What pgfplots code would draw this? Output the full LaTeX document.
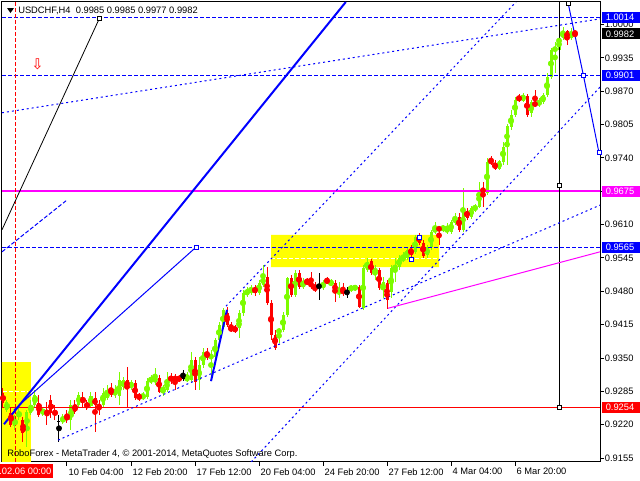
\documentclass[border=0pt]{standalone}
\usepackage{fontspec}
\setmainfont{Liberation Sans}
\newfontfamily\symfont{DejaVu Sans}
\usepackage{pgfplots}
\usepackage{pgfplotstable}
\pgfplotsset{compat=1.18}

\definecolor{mtgreen}{RGB}{124,252,0}
\definecolor{mtred}{RGB}{255,0,0}
\definecolor{mtblue}{RGB}{0,0,255}
\definecolor{mtmag}{RGB}{255,0,255}
\definecolor{mtyellow}{RGB}{255,255,0}

% H4 candles, x = bar number (4 px apart), o h l c
\pgfplotstableread{
x o h l c
1 0.9249 0.9268 0.9245 0.9264
3 0.9218 0.9239 0.9210 0.9233
4 0.9235 0.9253 0.9229 0.9245
6 0.9210 0.9249 0.9177 0.9245
7 0.9243 0.9268 0.9239 0.9258
8 0.9258 0.9287 0.9255 0.9278
10 0.9243 0.9253 0.9237 0.9249
15 0.9225 0.9241 0.9222 0.9235
17 0.9229 0.9268 0.9210 0.9258
19 0.9258 0.9284 0.9255 0.9278
22 0.9256 0.9284 0.9253 0.9276
25 0.9258 0.9291 0.9255 0.9282
26 0.9272 0.9297 0.9268 0.9284
28 0.9278 0.9297 0.9272 0.9287
29 0.9276 0.9323 0.9258 0.9307
30 0.9293 0.9313 0.9287 0.9307
32 0.9293 0.9307 0.9287 0.9303
35 0.9272 0.9284 0.9268 0.9278
36 0.9274 0.9312 0.9270 0.9305
37 0.9303 0.9317 0.9299 0.9312
38 0.9303 0.9331 0.9297 0.9313
40 0.9284 0.9297 0.9276 0.9293
41 0.9287 0.9323 0.9284 0.9307
46 0.9307 0.9323 0.9303 0.9313
47 0.9307 0.9362 0.9303 0.9346
49 0.9307 0.9352 0.9287 0.9337
50 0.9337 0.9370 0.9331 0.9362
52 0.9350 0.9366 0.9307 0.9356
53 0.9352 0.9389 0.9346 0.9385
54 0.9385 0.9420 0.9381 0.9414
55 0.9410 0.9447 0.9406 0.9443
59 0.9408 0.9443 0.9389 0.9437
60 0.9437 0.9483 0.9433 0.9477
61 0.9473 0.9489 0.9468 0.9483
62 0.9477 0.9493 0.9473 0.9487
64 0.9477 0.9502 0.9473 0.9496
65 0.9493 0.9531 0.9489 0.9508
69 0.9401 0.9408 0.9379 0.9404
70 0.9404 0.9439 0.9401 0.9433
71 0.9433 0.9508 0.9430 0.9506
73 0.9473 0.9522 0.9469 0.9516
75 0.9489 0.9506 0.9485 0.9498
80 0.9487 0.9502 0.9483 0.9496
82 0.9494 0.9504 0.9490 0.9498
84 0.9477 0.9498 0.9467 0.9481
87 0.9483 0.9493 0.9479 0.9489
88 0.9483 0.9493 0.9481 0.9491
90 0.9448 0.9531 0.9444 0.9525
91 0.9522 0.9545 0.9518 0.9537
93 0.9518 0.9531 0.9502 0.9523
95 0.9483 0.9508 0.9467 0.9498
97 0.9479 0.9531 0.9467 0.9525
98 0.9522 0.9545 0.9498 0.9531
99 0.9527 0.9551 0.9522 0.9545
100 0.9541 0.9556 0.9537 0.9547
101 0.9545 0.9566 0.9541 0.9560
103 0.9556 0.9590 0.9553 0.9585
106 0.9551 0.9570 0.9545 0.9566
107 0.9566 0.9600 0.9560 0.9596
108 0.9596 0.9615 0.9592 0.9604
110 0.9600 0.9610 0.9596 0.9606
111 0.9596 0.9613 0.9592 0.9604
112 0.9596 0.9619 0.9592 0.9615
113 0.9613 0.9633 0.9610 0.9625
115 0.9600 0.9681 0.9596 0.9639
117 0.9625 0.9646 0.9621 0.9643
118 0.9639 0.9650 0.9635 0.9646
119 0.9644 0.9693 0.9643 0.9677
121 0.9672 0.9740 0.9668 0.9733
124 0.9718 0.9736 0.9716 0.9735
125 0.9733 0.9771 0.9726 0.9762
126 0.9762 0.9806 0.9727 0.9802
127 0.9800 0.9833 0.9794 0.9823
128 0.9823 0.9858 0.9820 0.9852
130 0.9852 0.9866 0.9849 0.9862
132 0.9827 0.9852 0.9820 0.9849
134 0.9843 0.9856 0.9839 0.9852
135 0.9849 0.9866 0.9845 0.9862
136 0.9862 0.9906 0.9858 0.9898
137 0.9898 0.9954 0.9894 0.9950
138 0.9950 0.9966 0.9906 0.9954
139 0.9950 0.9996 0.9941 0.9973
140 0.9973 0.9996 0.9970 0.9987
142 0.9973 0.9993 0.9970 0.9985
}\bull

\pgfplotstableread{
x o h l c
0 0.9282 0.9291 0.9253 0.9262
2 0.9243 0.9253 0.9216 0.9220
5 0.9229 0.9235 0.9187 0.9204
9 0.9262 0.9278 0.9235 0.9239
11 0.9247 0.9264 0.9220 0.9241
12 0.9268 0.9278 0.9233 0.9243
13 0.9245 0.9258 0.9229 0.9241
16 0.9239 0.9249 0.9224 0.9229
18 0.9258 0.9268 0.9241 0.9245
20 0.9274 0.9284 0.9253 0.9262
21 0.9262 0.9268 0.9249 0.9253
23 0.9272 0.9284 0.9206 0.9258
24 0.9258 0.9268 0.9239 0.9253
27 0.9291 0.9301 0.9274 0.9278
31 0.9307 0.9333 0.9255 0.9293
33 0.9301 0.9307 0.9268 0.9272
34 0.9278 0.9282 0.9266 0.9272
39 0.9312 0.9317 0.9282 0.9284
42 0.9313 0.9321 0.9299 0.9307
43 0.9313 0.9319 0.9287 0.9307
44 0.9312 0.9317 0.9303 0.9307
48 0.9346 0.9352 0.9287 0.9303
51 0.9362 0.9370 0.9346 0.9350
56 0.9437 0.9449 0.9410 0.9414
57 0.9410 0.9420 0.9401 0.9404
58 0.9410 0.9414 0.9399 0.9402
63 0.9489 0.9493 0.9471 0.9477
66 0.9508 0.9527 0.9454 0.9458
67 0.9458 0.9464 0.9385 0.9395
68 0.9395 0.9404 0.9366 0.9370
72 0.9506 0.9512 0.9469 0.9473
74 0.9516 0.9522 0.9485 0.9489
76 0.9500 0.9506 0.9493 0.9496
77 0.9498 0.9518 0.9485 0.9489
78 0.9489 0.9498 0.9479 0.9483
81 0.9502 0.9508 0.9494 0.9498
83 0.9496 0.9502 0.9460 0.9479
85 0.9483 0.9496 0.9471 0.9477
89 0.9489 0.9493 0.9448 0.9450
92 0.9539 0.9543 0.9512 0.9516
94 0.9522 0.9525 0.9483 0.9487
96 0.9496 0.9502 0.9445 0.9464
102 0.9562 0.9570 0.9547 0.9551
104 0.9590 0.9594 0.9570 0.9574
105 0.9574 0.9581 0.9545 0.9549
109 0.9604 0.9608 0.9570 0.9600
114 0.9625 0.9633 0.9596 0.9600
116 0.9637 0.9643 0.9619 0.9623
120 0.9681 0.9693 0.9644 0.9673
122 0.9736 0.9744 0.9726 0.9731
123 0.9731 0.9735 0.9716 0.9718
129 0.9860 0.9864 0.9849 0.9852
131 0.9860 0.9864 0.9820 0.9823
133 0.9847 0.9873 0.9839 0.9843
141 0.9987 0.9989 0.9960 0.9973
143 0.9985 0.9985 0.9977 0.9982
}\bear

\pgfplotstableread{
x c h l
14 0.9227 0.9239 0.9187
45 0.9310 0.9327 0.9305
79 0.9487 0.9516 0.9464
86 0.9479 0.9489 0.9467
}\doji

\pgfplotsset{
  wick/.style={#1, only marks, mark=none, error bars/.cd, y dir=both, y explicit,
    error mark=none, error bar style={draw=#1, line width=0.75pt}},
  body/.style={#1, only marks, mark=none, error bars/.cd, y dir=both, y explicit,
    error mark=none, error bar style={draw=#1, line width=2.25pt}},
  dotline/.style={mtblue, line width=0.75pt, dash pattern=on 1.5pt off 2.25pt},
  dashline/.style={mtblue, line width=0.75pt, dash pattern=on 3pt off 1.5pt},
}

% price box on the right edge: colour, pixel y, text
\newcommand{\pricebox}[3]{%
  \fill[#1] (602,480-#2-5.5) rectangle (641,480-#2+5.5);
  \node[anchor=west, inner sep=0pt, text=white] at (605.5,480-#2) {#3};}

\begin{document}
\begin{tikzpicture}[x=0.75pt, y=0.75pt, font=\fontsize{7}{8}\selectfont]
\fill[white] (0,0) rectangle (640,480);
\path[use as bounding box] (0,0) rectangle (640,480);

\begin{axis}[
  at={(1.5pt,358.5pt)}, anchor=north west,
  clip bounding box=upper bound,
  scale only axis, width=448.5pt, height=345pt,
  xmin=-0.25, xmax=149.25, ymin=0.91474, ymax=1.00439,
  axis line style={black, line width=0.75pt},
  tick align=outside, major tick length=3pt,
  tick style={black, line width=0.75pt},
  ytick pos=right, yticklabel pos=right,
  ytick={0.9155,0.9220,0.9285,0.9350,0.9415,0.9480,0.9545,0.9610,0.9675,0.9740,0.9805,0.9870,0.9935,1.0000},
  scaled y ticks=false,
  yticklabel style={anchor=west, inner sep=0pt, xshift=0.5pt,
    /pgf/number format/fixed, /pgf/number format/fixed zerofill,
    /pgf/number format/precision=4, /pgf/number format/assume math mode=true},
  xtick pos=bottom,
  xtick={16,32,48,64,80,96,112,128},
  xticklabels={10 Feb 04:00, 12 Feb 20:00, 17 Feb 12:00, 20 Feb 04:00,
    24 Feb 20:00, 27 Feb 12:00, 4 Mar 04:00, 6 Mar 20:00},
  xticklabel style={anchor=north west, inner sep=0pt, xshift=1pt, yshift=-1.5pt},
  ticklabel style={font=\fontsize{7}{8}\selectfont},
]
% background rectangles
\addplot[fill=mtyellow, draw=none] coordinates {(-0.25,0.91474) (7,0.91474) (7,0.9342) (-0.25,0.9342) (-0.25,0.91474)};
\addplot[fill=mtyellow, draw=none] coordinates {(67,0.9527) (109,0.9527) (109,0.9590) (67,0.9590) (67,0.9527)};
\addplot[white, line width=0.75pt, dash pattern=on 3pt off 1.5pt] coordinates {(0,0.9284) (6.25,0.9284)};
\addplot[white, line width=0.75pt, dash pattern=on 3pt off 1.5pt] coordinates {(67,0.9544) (109,0.9544)};

% candles
\addplot[wick=mtgreen] table[x=x, y expr={(\thisrow{h}+\thisrow{l})/2}, y error expr={(\thisrow{h}-\thisrow{l})/2}] {\bull};
\addplot[body=mtgreen] table[x=x, y expr={(\thisrow{o}+\thisrow{c})/2}, y error expr={(\thisrow{c}-\thisrow{o})/2}] {\bull};
\addplot[wick=mtred] table[x=x, y expr={(\thisrow{h}+\thisrow{l})/2}, y error expr={(\thisrow{h}-\thisrow{l})/2}] {\bear};
\addplot[body=mtred] table[x=x, y expr={(\thisrow{o}+\thisrow{c})/2}, y error expr={(\thisrow{o}-\thisrow{c})/2}] {\bear};
\addplot[wick=black] table[x=x, y expr={(\thisrow{h}+\thisrow{l})/2}, y error expr={(\thisrow{h}-\thisrow{l})/2}] {\doji};
\addplot[only marks, mark=-, mark size=1.125pt, mark options={black, line width=0.75pt}] table[x=x, y=c] {\doji};

% horizontal levels
\addplot[mtred, line width=0.8pt] coordinates {(-0.25,0.9254) (149.25,0.9254)};
\addplot[dashline] coordinates {(-0.25,0.9565) (149.25,0.9565)};
\addplot[dashline] coordinates {(-0.25,0.9901) (149.25,0.9901)};
\addplot[dashline] coordinates {(-0.25,1.0014) (149.25,1.0014)};
\addplot[mtmag, line width=1.5pt] coordinates {(-0.25,0.9675) (149.25,0.9675)};
% verticals
\addplot[mtred, line width=0.75pt, dash pattern=on 3pt off 1.5pt] coordinates {(3.2,0.91474) (3.2,1.00439)};
\addplot[black, line width=0.75pt] coordinates {(139,0.9254) (139,1.00439)};

% trend lines
\addplot[black, line width=0.6pt] coordinates {(-0.25,0.9600) (24.1,1.0012)};
\addplot[mtblue, line width=1.5pt] coordinates {(0.25,0.9221) (85.7,1.00439)};
\addplot[mtblue, line width=0.75pt] coordinates {(2.75,0.9249) (48.25,0.9566)};
\addplot[mtblue, line width=1.5pt] coordinates {(52,0.9305) (56,0.9444)};
\addplot[dashline] coordinates {(-0.25,0.9557) (16,0.9658)};
\addplot[dotline] coordinates {(-0.25,0.9828) (149.25,1.0011)};
\addplot[dotline] coordinates {(13.75,0.9190) (149.25,0.9648)};
\addplot[dotline] coordinates {(62.05,0.91474) (149.25,0.9878)};
\addplot[dotline] coordinates {(55.75,0.9451) (128.25,1.00439)};
\addplot[mtmag, line width=0.75pt] coordinates {(96.25,0.9447) (149.25,0.9557)};
\addplot[mtblue, line width=0.75pt] coordinates {(141.3,1.0041) (145.1,0.9901) (149,0.9750)};

% anchor points
\addplot[only marks, mark=square*, mark size=1.5pt, mark options={fill=white, draw=black, line width=0.6pt}]
  coordinates {(139,0.9687) (139,0.9254) (141.3,1.0041) (24.1,1.0012)};
\addplot[only marks, mark=square*, mark size=1.5pt, mark options={fill=white, draw=mtblue, line width=0.6pt}]
  coordinates {(145.1,0.9901) (149,0.9750) (48.25,0.9566) (104,0.9586) (102,0.9543)};
\addplot[only marks, mark=text, text mark={\symfont ⇩}, text mark as node=true,
  text mark style={font=\fontsize{11}{11}\selectfont, text=mtred, inner sep=0pt}]
  coordinates {(8.6,0.9922)};
\end{axis}

% header and footer texts
\fill[black] (7,472) -- (14,472) -- (10.5,467) -- cycle;
\node[anchor=west, inner sep=0pt] at (18,469.5) {USDCHF,H4\ \ 0.9985 0.9985 0.9977 0.9982};
\node[anchor=west, inner sep=0pt] at (7,26) {RoboForex - MetaTrader 4, © 2001-2014, MetaQuotes Software Corp.};
\fill[mtred] (0,2) rectangle (53,16);
\node[anchor=east, inner sep=0pt, text=white] at (51.5,9) {2014.02.06 00:00};

% price labels on the scale
\pricebox{mtblue}{17.3}{1.0014}
\pricebox{black}{33.8}{0.9982}
\pricebox{mtblue}{75.3}{0.9901}
\pricebox{mtmag}{191.1}{0.9675}
\pricebox{mtblue}{247.6}{0.9565}
\pricebox{mtred}{407.2}{0.9254}
\end{tikzpicture}
\end{document}
